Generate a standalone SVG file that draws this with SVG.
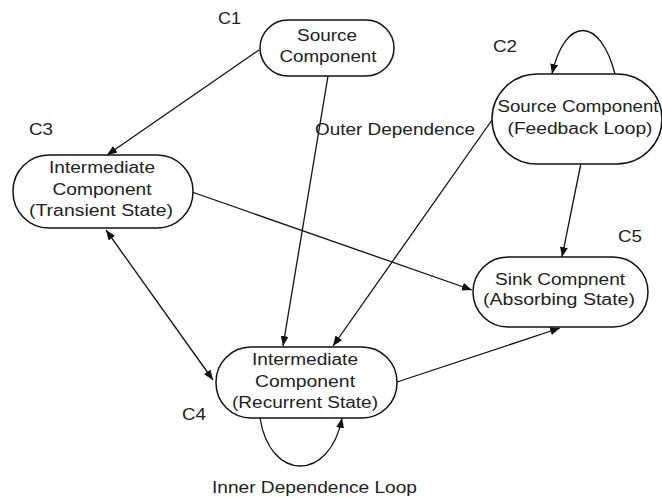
<svg xmlns="http://www.w3.org/2000/svg" width="662" height="498" viewBox="0 0 662 498">
<style>
  .node rect { fill: #ffffff; stroke: #111; stroke-width: 1.5; }
  text { font-family: "Liberation Sans", Arial, sans-serif; font-size: 16px; fill: #222; }
  .c { text-anchor: middle; }
  .edge { fill: none; stroke: #111; stroke-width: 1.3; }
</style>
<defs>
  <marker id="arr" viewBox="0 0 10 8" refX="10" refY="4" markerWidth="10" markerHeight="8" markerUnits="userSpaceOnUse" orient="auto-start-reverse">
    <path d="M0,0 L10,4 L0,8 z" fill="#111"/>
  </marker>
</defs>
<rect width="662" height="498" fill="#ffffff"/>

<g id="connectors">
  <line class="edge" x1="259" y1="50" x2="107" y2="155" marker-end="url(#arr)"/>
  <line class="edge" x1="328" y1="76" x2="283" y2="346" marker-end="url(#arr)"/>
  <line class="edge" x1="492" y1="120" x2="333" y2="346" marker-end="url(#arr)"/>
  <line class="edge" x1="106" y1="230" x2="213" y2="380" marker-start="url(#arr)" marker-end="url(#arr)"/>
  <line class="edge" x1="192" y1="192" x2="472" y2="290" marker-end="url(#arr)"/>
  <line class="edge" x1="581" y1="163" x2="562" y2="257" marker-end="url(#arr)"/>
  <line class="edge" x1="397" y1="382" x2="560" y2="328" marker-end="url(#arr)"/>
  <path class="edge" d="M615,74 C600,16 565,16 552,74" marker-end="url(#arr)"/>
  <path class="edge" d="M260,418 C270,482 330,482 342,418" marker-end="url(#arr)"/>
</g>

<g id="C1" class="node">
  <rect x="260" y="20" width="134" height="56" rx="28" ry="28"/>
  <text class="c" x="327" y="41" textLength="60" lengthAdjust="spacingAndGlyphs">Source</text>
  <text class="c" x="328" y="62" textLength="97" lengthAdjust="spacingAndGlyphs">Component</text>
</g>

<g id="C2" class="node">
  <rect x="492" y="74" width="170" height="90" rx="45" ry="45"/>
  <text class="c" x="578" y="112" textLength="161" lengthAdjust="spacingAndGlyphs">Source Component</text>
  <text class="c" x="580" y="134" textLength="145" lengthAdjust="spacingAndGlyphs">(Feedback Loop)</text>
</g>

<g id="C3" class="node">
  <rect x="13" y="155" width="180" height="73" rx="36" ry="36"/>
  <text class="c" x="102" y="173" textLength="106" lengthAdjust="spacingAndGlyphs">Intermediate</text>
  <text class="c" x="102" y="195" textLength="99" lengthAdjust="spacingAndGlyphs">Component</text>
  <text class="c" x="101" y="216" textLength="144" lengthAdjust="spacingAndGlyphs">(Transient State)</text>
</g>

<g id="C4" class="node">
  <rect x="216" y="347" width="181" height="71" rx="35" ry="35"/>
  <text class="c" x="305" y="365" textLength="106" lengthAdjust="spacingAndGlyphs">Intermediate</text>
  <text class="c" x="305" y="387" textLength="100" lengthAdjust="spacingAndGlyphs">Component</text>
  <text class="c" x="305" y="408" textLength="146" lengthAdjust="spacingAndGlyphs">(Recurrent State)</text>
</g>

<g id="C5" class="node">
  <rect x="473" y="257" width="175" height="70" rx="35" ry="35"/>
  <text class="c" x="560" y="285" textLength="130" lengthAdjust="spacingAndGlyphs">Sink Compnent</text>
  <text class="c" x="559" y="305" textLength="152" lengthAdjust="spacingAndGlyphs">(Absorbing State)</text>
</g>

<g id="labels">
  <text x="218" y="24" textLength="23" lengthAdjust="spacingAndGlyphs">C1</text>
  <text x="493" y="52" textLength="24" lengthAdjust="spacingAndGlyphs">C2</text>
  <text x="29" y="135" textLength="24" lengthAdjust="spacingAndGlyphs">C3</text>
  <text x="182" y="420" textLength="24" lengthAdjust="spacingAndGlyphs">C4</text>
  <text x="618" y="242" textLength="24" lengthAdjust="spacingAndGlyphs">C5</text>
  <text x="315" y="135" textLength="160" lengthAdjust="spacingAndGlyphs">Outer Dependence</text>
  <text x="212" y="493" textLength="205" lengthAdjust="spacingAndGlyphs">Inner Dependence Loop</text>
</g>
</svg>
